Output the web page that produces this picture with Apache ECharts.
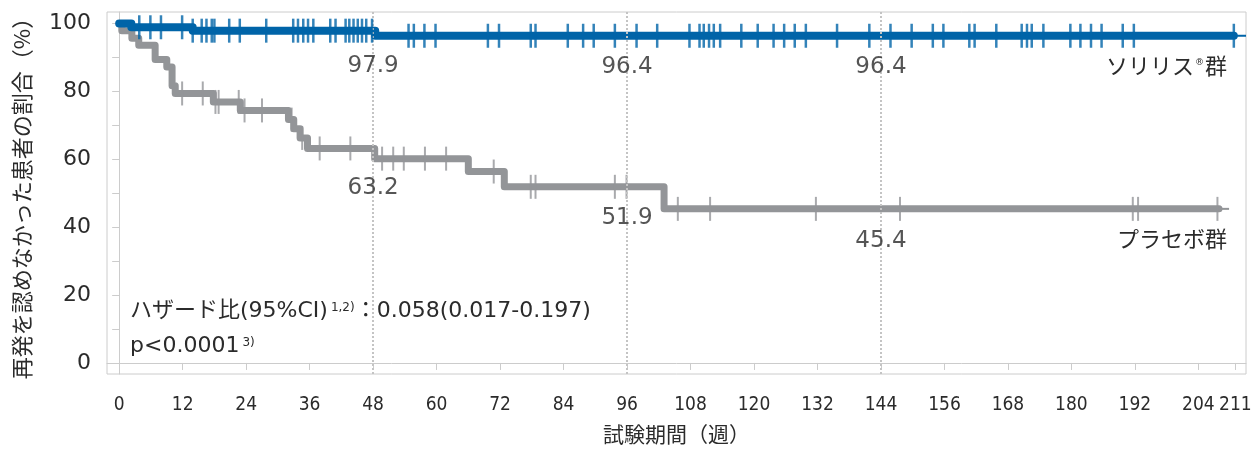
<!DOCTYPE html>
<html>
<head>
<meta charset="utf-8">
<script src="https://cdn.jsdelivr.net/npm/echarts@6/dist/echarts.min.js"></script>
<style>
  html, body { margin: 0; padding: 0; background: #fff; }
  #chart { width: 1255px; height: 450px; }
</style>
</head>
<body>
<div id="chart"></div>
<script>
// axis ticks
var weekTicks = [0, 12, 24, 36, 48, 60, 72, 84, 96, 108, 120, 132, 144, 156, 168, 180, 192, 204, 211]
var percentTicks = [0, 20, 40, 60, 80, 100]
var percentMinorTicks = [0, 10, 20, 30, 40, 50, 60, 70, 80, 90, 100]

// Kaplan-Meier steps [week, %]
var solirisSteps = [[0, 100], [2.3, 98.9], [13.9, 97.9], [48.4, 96.4], [210.7, 96.4]]
var placeboSteps = [
  [0, 100], [0.5, 97.9], [2.4, 95.7], [3.7, 93.6], [6.8, 89.4], [9.0, 87.2],
  [10.0, 81.7], [10.6, 79.4], [17.8, 76.9], [22.9, 74.4], [32.0, 71.7],
  [33.0, 69.0], [34.2, 66.3], [35.6, 63.2], [48.3, 60.2], [66.0, 56.4],
  [72.8, 51.9], [103.0, 45.4], [207.9, 45.4]
]
// thin tail after last patient
var solirisTail = [[210.7, 96.4], [213, 96.4]]
var placeboTail = [[207.9, 45.4], [209.8, 45.4]]

// censored patients (weeks)
var solirisCensored = [
  3.8, 5.9, 7.9, 11.9, 13.9, 15.6, 16.5, 17.5, 18.0, 20.8, 22.8, 27.8, 32.9, 33.8,
  34.8, 35.7, 36.7, 39.9, 40.9, 42.8, 43.5, 44.3, 45.1, 45.9, 46.7, 47.8, 54.7,
  55.7, 57.7, 59.8, 69.7, 71.8, 77.8, 78.7, 84.8, 87.7, 89.7, 93.7, 97.8, 101.7,
  107.8, 109.7, 110.5, 111.5, 112.4, 113.6, 117.6, 120.7, 123.7, 125.7, 127.7,
  129.8, 135.7, 141.8, 145.8, 149.8, 153.8, 155.8, 160.7, 161.7, 165.8, 170.6,
  171.6, 172.5, 174.7, 179.8, 181.7, 183.7, 185.7, 189.7, 191.8, 210.7
]
var placeboCensored = [
  11.9, 15.8, 18.2, 18.8, 22.6, 23.7, 27.0, 32.6, 34.6, 37.9, 43.7, 49.7, 51.8,
  53.8, 57.8, 61.8, 70.8, 77.8, 78.7, 93.7, 95.9, 105.6, 111.7, 131.7, 147.6,
  191.6, 192.6, 207.6
]

// milestone values
var milestoneWeeks = [48, 96, 144]
var solirisMilestones = [97.9, 96.4, 96.4]
var placeboMilestones = [63.2, 51.9, 45.4]

var BLUE = '#0064a8'
var GRAY = '#939598'
var TEXT = '#2b2b2b'
var AXIS = '#cccccc'
var NUM_FONT = "'DejaVu Sans', 'Noto Sans CJK JP', sans-serif"
var JP_FONT = "'Noto Sans CJK JP', sans-serif"

function valueAt(steps, t) {
  var v = steps[0][1]
  for (var i = 0; i < steps.length; i++) {
    if (steps[i][0] <= t) v = steps[i][1]
  }
  return v
}

function censorData(steps, weeks) {
  return weeks.map(function(w) { return [w, valueAt(steps, w)] })
}

function milestoneData(values, offsets) {
  return milestoneWeeks.map(function(w, i) {
    return { value: [w, values[i]], label: { offset: [0, offsets[i]] } }
  })
}

var milestoneLabel = {
  show: true,
  position: 'inside',
  formatter: function(p) { return p.value[1].toFixed(1) },
  fontFamily: NUM_FONT,
  fontSize: 23,
  color: TEXT
}

var chart = echarts.init(document.getElementById('chart'))

chart.setOption({
  animation: false,
  grid: {
    left: 107,
    right: 9,
    top: 12,
    bottom: 76,
    show: true,
    borderColor: AXIS,
    borderWidth: 1
  },
  xAxis: {
    type: 'value',
    min: -2.3,
    max: 213,
    name: '試験期間（週）',
    nameLocation: 'middle',
    nameGap: 50,
    nameTextStyle: { fontFamily: JP_FONT, fontSize: 21, color: TEXT },
    axisLine: { lineStyle: { color: AXIS } },
    axisTick: { show: true, length: 7, customValues: weekTicks, lineStyle: { color: AXIS } },
    axisLabel: {
      customValues: weekTicks,
      margin: 22,
      fontFamily: "'DejaVu Sans Condensed', sans-serif",
      fontSize: 19,
      color: TEXT
    },
    splitLine: { show: false }
  },
  yAxis: {
    type: 'value',
    min: -3.25,
    max: 103.4,
    name: '再発を認めなかった患者の割合（%）',
    nameLocation: 'middle',
    nameRotate: 90,
    nameGap: 74,
    nameTextStyle: { fontFamily: JP_FONT, fontSize: 22, color: TEXT },
    axisLine: { show: true, lineStyle: { color: AXIS } },
    axisTick: { show: true, length: 7, customValues: percentMinorTicks, lineStyle: { color: AXIS } },
    axisLabel: {
      customValues: percentTicks,
      margin: 16,
      fontFamily: NUM_FONT,
      fontSize: 22,
      color: TEXT
    },
    splitLine: { show: false }
  },
  series: [
    {
      // dotted reference lines at 48 / 96 / 144 weeks
      type: 'line',
      data: [],
      z: 1,
      markLine: {
        silent: true,
        symbol: 'none',
        label: { show: false },
        lineStyle: { color: '#c4c4c4', type: [2, 2], width: 2 },
        data: milestoneWeeks.map(function(w) { return { xAxis: w } })
      }
    },
    {
      name: 'プラセボ群',
      type: 'line',
      step: 'end',
      data: placeboSteps,
      showSymbol: false,
      z: 2,
      lineStyle: { color: GRAY, width: 7, cap: 'round', join: 'round' }
    },
    {
      type: 'line',
      data: placeboTail,
      showSymbol: false,
      z: 2,
      lineStyle: { color: GRAY, width: 2 }
    },
    {
      type: 'scatter',
      data: censorData(placeboSteps, placeboCensored),
      symbol: 'rect',
      symbolSize: [2, 24],
      itemStyle: { color: GRAY },
      z: 3
    },
    {
      name: 'ソリリス群',
      type: 'line',
      step: 'end',
      data: solirisSteps,
      showSymbol: false,
      z: 4,
      lineStyle: { color: BLUE, width: 8, cap: 'round', join: 'round' }
    },
    {
      type: 'line',
      data: solirisTail,
      showSymbol: false,
      z: 4,
      lineStyle: { color: BLUE, width: 2 }
    },
    {
      type: 'scatter',
      data: censorData(solirisSteps, solirisCensored),
      symbol: 'rect',
      symbolSize: [2.5, 24],
      itemStyle: { color: BLUE },
      z: 5
    },
    {
      type: 'scatter',
      symbolSize: 0,
      silent: true,
      z: 6,
      data: milestoneData(solirisMilestones, [35, 31, 31]),
      label: milestoneLabel
    },
    {
      type: 'scatter',
      symbolSize: 0,
      silent: true,
      z: 6,
      data: milestoneData(placeboMilestones, [40, 31, 32]),
      label: milestoneLabel
    }
  ],
  graphic: [
    {
      type: 'text',
      right: 28,
      top: 55,
      style: {
        text: '{a|ソリリス}{r|®}{a|群}',
        rich: {
          a: { fontFamily: JP_FONT, fontSize: 22, fill: TEXT, lineHeight: 26 },
          r: { fontFamily: NUM_FONT, fontSize: 9, fill: TEXT, lineHeight: 26, padding: [0, 1, 6, 1] }
        }
      }
    },
    {
      type: 'text',
      right: 28,
      top: 228,
      style: {
        text: 'プラセボ群',
        font: "22px 'Noto Sans CJK JP', sans-serif",
        fill: TEXT
      }
    },
    {
      type: 'text',
      left: 130,
      top: 300,
      style: {
        text: '{a|ハザード比(95%CI)}{s|1,2)}{a|：0.058(0.017-0.197)}\n{a|p<0.0001}{s|3)}',
        rich: {
          a: { fontFamily: NUM_FONT, fontSize: 22, fill: TEXT, lineHeight: 35 },
          s: { fontFamily: NUM_FONT, fontSize: 12, fill: TEXT, lineHeight: 35, padding: [0, 0, 7, 3] }
        }
      }
    }
  ]
})
</script>
</body>
</html>
